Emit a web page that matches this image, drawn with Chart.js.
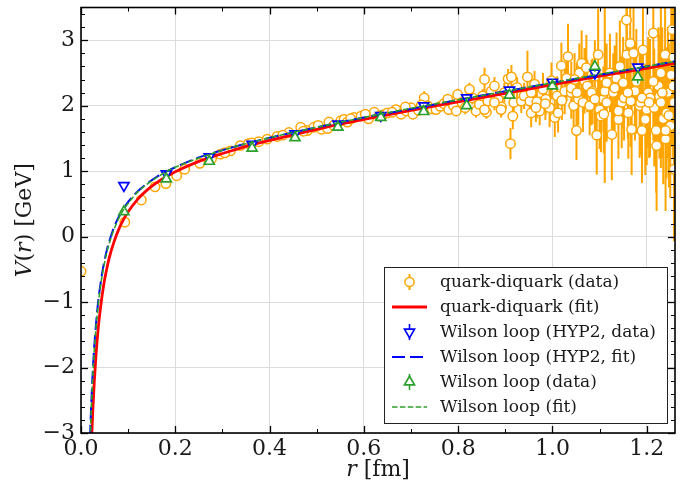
<!DOCTYPE html>
<html><head><meta charset="utf-8">
<script src="https://cdn.jsdelivr.net/npm/chart.js@4.4.0/dist/chart.umd.min.js"></script>
<style>html,body{margin:0;padding:0;background:#fff;}canvas{display:block;}</style>
</head><body>
<canvas id="c" width="694" height="491"></canvas>
<script>
// ---- data ----
const qdR = [
0.000,0.093,0.128,0.157,0.180,0.203,0.220,0.252,0.277,0.296,
0.317,0.338,0.355,0.377,0.395,0.416,0.441,0.466,0.480,0.494,
0.510,0.523,0.526,0.551,0.558,0.565,0.579,0.594,0.610,0.622,
0.640,0.650,0.668,0.679,0.690,0.700,0.704,0.716,0.728,0.735,
0.745,0.753,0.762,0.770,0.778,0.780,0.790,0.796,0.799,0.808,
0.815,0.824,0.830,0.838,0.845,0.852,0.856,0.860,0.863,0.870,
0.877,0.885,0.892,0.898,0.906,0.911,0.913,0.918,0.925,0.934,
0.940,0.947,0.952,0.955,0.962,0.967,0.973,0.980,0.986,0.994,
0.998,1.005,1.010,1.019,1.026,1.033,1.040,1.045,1.051,1.055,
1.057,1.062,1.065,1.068,1.074,1.079,1.085,1.090,1.094,1.097,
1.100,1.103,1.108,1.111,1.115,1.122,1.126,1.129,1.132,1.136,
1.140,1.143,1.147,1.152,1.157,1.158,1.161,1.165,1.166,1.168,
1.172,1.175,1.178,1.185,1.190,1.192,1.197,1.200,1.203,1.207,
1.214,1.216,1.221,1.225,1.227,1.230,1.235,1.239,1.240,1.242,
1.245,1.250,1.252,1.254,1.256,1.258,1.258,
0.856,0.877,0.891,0.916,0.955,0.965,0.985,1.012,1.020,1.030,
1.040,1.047,1.052,1.072,1.083,1.090,1.109,1.115,1.140,1.150,
1.160,1.187,1.190,1.205,1.214,1.220,1.230,1.233,1.240,1.247,1.257,
0.305,0.362,0.428,0.472,0.503,0.536,0.572,0.603,0.632,0.660,0.688,0.722];
const qdV = [
-0.53,0.22,0.56,0.76,0.81,0.93,1.03,1.12,1.19,1.26,
1.31,1.39,1.42,1.45,1.49,1.53,1.59,1.67,1.62,1.67,
1.64,1.65,1.75,1.77,1.79,1.75,1.82,1.84,1.80,1.90,
1.86,1.89,1.94,1.87,1.92,1.97,1.87,1.93,2.12,2.00,
1.95,1.94,1.99,2.03,2.10,1.94,2.00,1.92,2.17,2.05,
1.97,2.25,2.12,1.92,2.02,2.15,2.40,1.90,2.07,2.22,
2.30,2.10,1.98,2.20,2.41,1.42,2.44,2.05,2.28,2.07,
2.15,2.44,2.07,2.20,2.33,2.06,1.92,2.25,2.10,1.97,
2.38,1.82,2.15,2.61,2.22,2.75,2.20,2.00,1.62,2.10,
2.50,2.65,2.05,2.38,2.30,2.00,2.22,2.45,1.55,2.78,
1.94,1.84,2.10,2.22,2.35,2.50,1.56,2.20,2.27,2.42,
1.79,2.60,2.05,2.12,3.31,2.78,1.89,2.95,2.07,1.64,
2.80,2.22,2.37,2.00,1.62,2.85,1.79,1.94,2.20,2.12,
3.11,1.97,1.39,2.30,2.14,2.50,1.80,2.78,1.49,1.89,
2.20,1.69,2.47,3.16,2.30,1.03,2.05,
1.94,2.05,1.94,1.84,1.89,1.97,2.03,1.89,2.08,2.42,
2.27,2.40,2.20,2.58,2.20,2.10,1.87,2.05,1.92,2.35,
2.20,2.05,2.12,2.05,2.37,1.62,2.05,2.20,1.62,1.85,2.74,
1.28,1.43,1.55,1.61,1.70,1.70,1.80,1.87,1.84,1.90,1.98,2.01];
const qdErr = [
0.02,0.02,0.02,0.02,0.02,0.02,0.02,0.02,0.02,0.02,
0.02,0.02,0.02,0.02,0.02,0.03,0.03,0.03,0.03,0.03,
0.03,0.03,0.03,0.03,0.03,0.03,0.03,0.03,0.04,0.04,
0.04,0.04,0.04,0.05,0.05,0.05,0.05,0.05,0.10,0.05,
0.06,0.06,0.07,0.07,0.08,0.07,0.08,0.08,0.09,0.08,
0.10,0.10,0.10,0.10,0.12,0.10,0.18,0.10,0.12,0.12,
0.14,0.12,0.14,0.15,0.15,0.24,0.18,0.18,0.16,0.18,
0.20,0.40,0.20,0.22,0.20,0.25,0.22,0.25,0.24,0.30,
0.28,0.30,0.30,0.35,0.35,0.50,0.40,0.35,0.45,0.40,
0.45,0.50,0.45,0.50,0.40,0.45,0.50,0.55,0.60,0.70,
0.60,0.55,0.50,1.40,0.60,0.60,0.70,0.60,0.65,0.70,
0.60,0.70,0.70,0.65,0.80,0.75,0.70,0.80,0.70,0.70,
0.80,0.75,0.80,0.80,0.80,0.90,0.85,0.85,0.85,0.90,
1.00,0.90,1.00,0.90,0.95,1.00,1.00,1.10,1.10,1.00,
1.00,1.10,1.10,1.20,1.10,1.10,1.20,
0.10,0.12,0.12,0.20,0.22,0.22,0.25,0.30,0.30,0.35,
0.40,0.40,0.45,0.50,0.50,0.55,0.60,0.60,0.65,0.70,
0.70,0.80,0.80,0.85,0.90,0.95,1.00,1.00,1.05,1.10,1.10,
0.02,0.02,0.03,0.03,0.03,0.03,0.03,0.04,0.04,0.04,0.05,0.06];

const fitR   = [0.018,0.02,0.022,0.025,0.028,0.032,0.036,0.04,0.045,0.05,0.055,0.06,0.07,0.08,0.09,0.1,0.12,0.14,0.16,0.18,0.2,0.25,0.3,0.35,0.4,0.5,0.6,0.7,0.8,0.9,1.0,1.1,1.2,1.27];
const qdFit  = [-4.20,-3.65,-3.20,-2.66,-2.24,-1.79,-1.44,-1.17,-0.89,-0.66,-0.48,-0.32,-0.08,0.11,0.26,0.38,0.57,0.71,0.82,0.91,0.99,1.15,1.27,1.38,1.47,1.64,1.79,1.93,2.06,2.19,2.32,2.45,2.57,2.66];
const hypFit = [-3.35,-2.89,-2.51,-2.05,-1.69,-1.32,-1.02,-0.79,-0.55,-0.36,-0.20,-0.07,0.14,0.30,0.42,0.53,0.69,0.81,0.91,0.99,1.06,1.21,1.32,1.42,1.51,1.67,1.82,1.95,2.09,2.22,2.35,2.47,2.60,2.69];
const wlFit  = [-3.46,-2.98,-2.59,-2.13,-1.76,-1.37,-1.07,-0.83,-0.59,-0.40,-0.23,-0.10,0.11,0.28,0.41,0.51,0.68,0.80,0.90,0.99,1.06,1.20,1.32,1.42,1.51,1.67,1.82,1.96,2.09,2.22,2.35,2.48,2.60,2.69];

const wlR    = [0.091,0.181,0.272,0.363,0.454,0.545,0.636,0.727,0.818,0.909,1.000,1.090,1.181];
const hypV   = [0.78,0.96,1.22,1.41,1.57,1.72,1.85,2.00,2.12,2.24,2.36,2.50,2.59];
const hypErr = [0.01,0.01,0.01,0.01,0.01,0.01,0.02,0.02,0.02,0.03,0.03,0.04,0.05];
const wlV    = [0.38,0.88,1.15,1.35,1.51,1.67,1.82,1.91,2.00,2.16,2.30,2.60,2.44];
const wlErr  = [0.01,0.01,0.01,0.02,0.02,0.02,0.03,0.03,0.04,0.05,0.05,0.08,0.10];

const xTickVals = [0.0,0.2,0.4,0.6,0.8,1.0,1.2];
const xMinorVals = [0.1,0.3,0.5,0.7,0.9,1.1];
const yTickVals = [-3,-2,-1,0,1,2,3];
const yMinorVals = [-2.8,-2.6,-2.4,-2.2,-1.8,-1.6,-1.4,-1.2,-0.8,-0.6,-0.4,-0.2,0.2,0.4,0.6,0.8,1.2,1.4,1.6,1.8,2.2,2.4,2.6,2.8,3.2,3.4];

const legendLabels = ['quark-diquark (data)','quark-diquark (fit)','Wilson loop (HYP2, data)','Wilson loop (HYP2, fit)','Wilson loop (data)','Wilson loop (fit)'];

const ORANGE = '#FFA500', RED = '#FF0000', BLUE = '#0000FF', GREEN = '#2ca02c';
const SERIF = '"DejaVu Serif", serif';
const TXT = '#1a1a1a';

const pts = (xs, ys) => xs.slice(0, Math.min(xs.length, ys.length)).map((x, i) => ({x: x, y: ys[i]}));

const errPlugin = {
  id: 'errbars',
  beforeDatasetDraw(chart, args) {
    const ds = chart.data.datasets[args.index];
    if (!ds.errs) return;
    const ctx = chart.ctx, a = chart.chartArea, xs = chart.scales.x, ys = chart.scales.y;
    ctx.save();
    ctx.beginPath(); ctx.rect(a.left, a.top, a.right - a.left, a.bottom - a.top); ctx.clip();
    ctx.strokeStyle = ds.borderColor; ctx.lineWidth = ds.errWidth;
    ctx.beginPath();
    ds.data.forEach((p, i) => {
      const e = ds.errs[i] || 0;
      const px = xs.getPixelForValue(p.x);
      ctx.moveTo(px, ys.getPixelForValue(p.y - e));
      ctx.lineTo(px, ys.getPixelForValue(p.y + e));
    });
    ctx.stroke();
    ctx.restore();
  }
};

function drawTri(ctx, x, y, r, down, color) {
  ctx.save();
  ctx.translate(x, y);
  if (down) ctx.rotate(Math.PI);
  ctx.beginPath();
  for (let k = 0; k < 3; k++) {
    const ang = k * 2 * Math.PI / 3;
    const px = Math.sin(ang) * r, py = -Math.cos(ang) * r;
    if (k === 0) ctx.moveTo(px, py); else ctx.lineTo(px, py);
  }
  ctx.closePath();
  ctx.fillStyle = '#fff'; ctx.fill();
  ctx.strokeStyle = color; ctx.lineWidth = 1.7; ctx.stroke();
  ctx.restore();
}

function drawMixed(ctx, parts, size) {
  let total = 0;
  parts.forEach(p => { ctx.font = (p[1] ? 'italic ' : '') + size + 'px ' + SERIF; p.w = ctx.measureText(p[0]).width; total += p.w; });
  let x = -total / 2;
  parts.forEach(p => { ctx.font = (p[1] ? 'italic ' : '') + size + 'px ' + SERIF; ctx.fillText(p[0], x, 0); x += p.w; });
}

const framePlugin = {
  id: 'frame',
  afterDatasetsDraw(chart) {
    const ctx = chart.ctx, a = chart.chartArea, xs = chart.scales.x, ys = chart.scales.y;
    ctx.save();
    ctx.strokeStyle = '#000';
    const seg = (x1, y1, x2, y2, w) => { ctx.lineWidth = w; ctx.beginPath(); ctx.moveTo(x1, y1); ctx.lineTo(x2, y2); ctx.stroke(); };
    xTickVals.forEach(v => { const p = Math.round(xs.getPixelForValue(v)) + 0.5; seg(p, a.bottom, p, a.bottom - 7, 1.3); seg(p, a.top, p, a.top + 7, 1.3); });
    xMinorVals.forEach(v => { const p = Math.round(xs.getPixelForValue(v)) + 0.5; seg(p, a.bottom, p, a.bottom - 4, 1); seg(p, a.top, p, a.top + 4, 1); });
    yTickVals.forEach(v => { const p = Math.round(ys.getPixelForValue(v)) + 0.5; seg(a.left, p, a.left + 7, p, 1.3); seg(a.right, p, a.right - 7, p, 1.3); });
    yMinorVals.forEach(v => { const p = Math.round(ys.getPixelForValue(v)) + 0.5; seg(a.left, p, a.left + 4, p, 1); seg(a.right, p, a.right - 4, p, 1); });
    ctx.lineWidth = 1.6;
    ctx.strokeRect(a.left, a.top, a.right - a.left, a.bottom - a.top);
    ctx.restore();
  },
  afterDraw(chart) {
    const ctx = chart.ctx, a = chart.chartArea;
    ctx.save();
    ctx.fillStyle = TXT;
    ctx.textBaseline = 'middle';
    ctx.save();
    ctx.translate((a.left + a.right) / 2, 470);
    drawMixed(ctx, [['r', true], [' [fm]', false]], 22);
    ctx.restore();
    ctx.save();
    ctx.translate(25, (a.top + a.bottom) / 2);
    ctx.rotate(-Math.PI / 2);
    drawMixed(ctx, [['V', true], ['(', false], ['r', true], [') [GeV]', false]], 22);
    ctx.restore();

    const bx = 384.5, by = 267.5, bw = 283, bh = 156;
    ctx.fillStyle = '#fff'; ctx.fillRect(bx, by, bw, bh);
    ctx.strokeStyle = '#222'; ctx.lineWidth = 1; ctx.strokeRect(bx, by, bw, bh);
    const hx1 = 392, hx2 = 427, hm = 409.5, tx = 440;
    legendLabels.forEach((lab, i) => {
      const y = 282 + i * 25;
      ctx.setLineDash([]);
      if (i === 0) {
        ctx.strokeStyle = ORANGE; ctx.lineWidth = 2;
        ctx.beginPath(); ctx.moveTo(hm, y - 8); ctx.lineTo(hm, y + 8); ctx.stroke();
        ctx.beginPath(); ctx.arc(hm, y, 4.6, 0, 2 * Math.PI); ctx.fillStyle = '#fff'; ctx.fill(); ctx.lineWidth = 1.5; ctx.stroke();
      } else if (i === 1) {
        ctx.strokeStyle = RED; ctx.lineWidth = 2.8;
        ctx.beginPath(); ctx.moveTo(hx1, y); ctx.lineTo(hx2, y); ctx.stroke();
      } else if (i === 2) {
        ctx.strokeStyle = BLUE; ctx.lineWidth = 1.6;
        ctx.beginPath(); ctx.moveTo(hm, y - 8); ctx.lineTo(hm, y + 8); ctx.stroke();
        drawTri(ctx, hm, y, 5.8, true, BLUE);
      } else if (i === 3) {
        ctx.strokeStyle = BLUE; ctx.lineWidth = 2; ctx.setLineDash([13, 5]);
        ctx.beginPath(); ctx.moveTo(hx1, y); ctx.lineTo(hx2, y); ctx.stroke();
      } else if (i === 4) {
        ctx.strokeStyle = GREEN; ctx.lineWidth = 1.6;
        ctx.beginPath(); ctx.moveTo(hm, y - 8); ctx.lineTo(hm, y + 8); ctx.stroke();
        drawTri(ctx, hm, y, 5.8, false, GREEN);
      } else {
        ctx.strokeStyle = GREEN; ctx.lineWidth = 1.6; ctx.setLineDash([5.5, 2.4]);
        ctx.beginPath(); ctx.moveTo(hx1, y); ctx.lineTo(hx2, y); ctx.stroke();
      }
      ctx.setLineDash([]);
      ctx.fillStyle = TXT;
      ctx.font = '17px ' + SERIF;
      ctx.textAlign = 'left';
      ctx.fillText(lab, tx, y + 1);
    });
    ctx.restore();
  }
};

new Chart(document.getElementById('c'), {
  type: 'scatter',
  data: {
    datasets: [
      { label: legendLabels[0], data: pts(qdR, qdV), errs: qdErr, errWidth: 2,
        pointStyle: 'circle', pointRadius: 4.7, pointBorderWidth: 1.5,
        borderColor: ORANGE, backgroundColor: '#fff', pointBackgroundColor: '#fff', pointBorderColor: ORANGE,
        showLine: false, order: 6, clip: 0 },
      { label: legendLabels[1], data: pts(fitR, qdFit), showLine: true, borderColor: RED, borderWidth: 2.8,
        pointRadius: 0, cubicInterpolationMode: 'monotone', order: 5, clip: 0 },
      { label: legendLabels[2], data: pts(wlR, hypV), errs: hypErr, errWidth: 1.6,
        pointStyle: 'triangle', rotation: 180, pointRadius: 5.8, pointBorderWidth: 1.7,
        borderColor: BLUE, backgroundColor: '#fff', pointBackgroundColor: '#fff', pointBorderColor: BLUE,
        showLine: false, order: 4, clip: 0 },
      { label: legendLabels[3], data: pts(fitR, hypFit), showLine: true, borderColor: BLUE, borderWidth: 2,
        borderDash: [13, 5], pointRadius: 0, cubicInterpolationMode: 'monotone', order: 3, clip: 0 },
      { label: legendLabels[4], data: pts(wlR, wlV), errs: wlErr, errWidth: 1.6,
        pointStyle: 'triangle', pointRadius: 5.8, pointBorderWidth: 1.7,
        borderColor: GREEN, backgroundColor: '#fff', pointBackgroundColor: '#fff', pointBorderColor: GREEN,
        showLine: false, order: 2, clip: 0 },
      { label: legendLabels[5], data: pts(fitR, wlFit), showLine: true, borderColor: GREEN, borderWidth: 1.6,
        borderDash: [5.5, 2.4], pointRadius: 0, cubicInterpolationMode: 'monotone', order: 1, clip: 0 }
    ]
  },
  options: {
    responsive: false,
    animation: false,
    devicePixelRatio: 1,
    layout: { padding: { left: 0, right: 19, top: 4, bottom: 0 } },
    plugins: { legend: { display: false }, tooltip: { enabled: false } },
    scales: {
      x: {
        type: 'linear', min: 0, max: 1.26,
        afterBuildTicks: s => { s.ticks = xTickVals.map(v => ({ value: v })); },
        afterFit: s => { s.height = 58; s.paddingLeft = 0; s.paddingRight = 0; },
        grid: { color: '#dcdcdc', lineWidth: 1, drawTicks: false },
        border: { display: false },
        ticks: { font: { family: SERIF, size: 22 }, color: TXT, padding: 3, maxRotation: 0, autoSkip: false,
                 callback: v => Number(v).toFixed(1) }
      },
      y: {
        type: 'linear', min: -3, max: 3.5,
        afterBuildTicks: s => { s.ticks = yTickVals.map(v => ({ value: v })); },
        afterFit: s => { s.width = 81; s.paddingTop = 0; s.paddingBottom = 0; },
        grid: { color: '#dcdcdc', lineWidth: 1, drawTicks: false },
        border: { display: false },
        ticks: { font: { family: SERIF, size: 22 }, color: TXT, padding: 6, autoSkip: false,
                 callback: v => (v < 0 ? '\u2212' : '') + Math.abs(v) }
      }
    }
  },
  plugins: [errPlugin, framePlugin]
});
</script>
</body></html>
